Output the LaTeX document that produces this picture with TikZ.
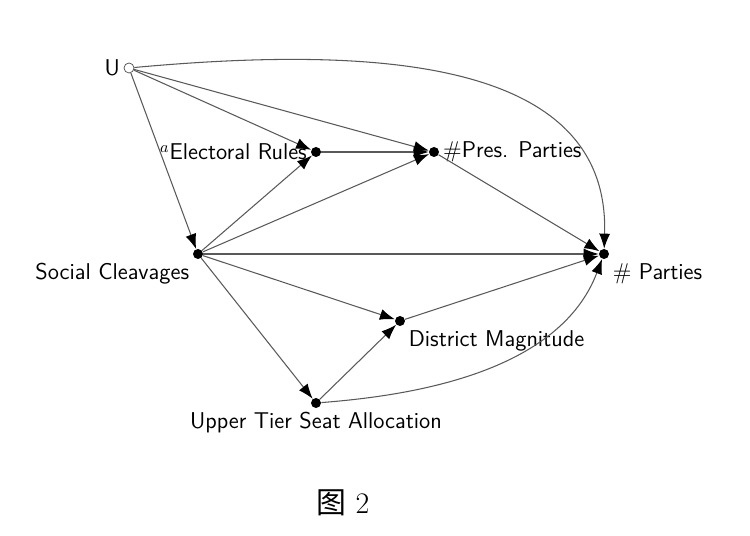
\documentclass[tikz,border=0pt]{standalone}
\usepackage{fontspec}
\usepackage{amsmath}
\newfontfamily\cjk{Noto Sans CJK SC}
\usetikzlibrary{arrows.meta}

\tikzset{
  obs/.style={circle,fill=black,inner sep=0pt,minimum size=0.2cm},
  unobs/.style={circle,draw=black!70,fill=white,inner sep=0pt,minimum size=0.2cm},
  lab/.style={font=\sffamily\fontsize{13}{15}\selectfont,inner sep=2pt},
  edge/.style={draw=black!65,line width=0.6pt,-{Latex[length=0.3cm,width=0.22cm,color=black]}}
}

\begin{document}
\begin{tikzpicture}
\useasboundingbox (0,0) rectangle (15,10.72);
\node[unobs] (u) at (2.58,9.36) {};
\node[obs] (er) at (6.32,7.68) {};
\node[obs] (pp) at (8.68,7.68) {};
\node[obs] (sc) at (3.96,5.64) {};
\node[obs] (np) at (12.08,5.64) {};
\node[obs] (dm) at (8.0,4.3) {};
\node[obs] (ut) at (6.32,2.66) {};
% labels
\node[lab,anchor=east] at (u.west) {U};
\node[lab,anchor=east] at (er.west) {$^a$Electoral Rules};
\node[lab,anchor=west] at (pp.east) {\#Pres. Parties};
\node[lab,anchor=north east] at ([xshift=-0.1cm]sc.south) {Social Cleavages};
\node[lab,anchor=north west] at ([xshift=0.1cm]np.south) {\# Parties};
\node[lab,anchor=north west] at ([xshift=0.1cm]dm.south) {District Magnitude};
\node[lab,anchor=north] at (ut.south) {Upper Tier Seat Allocation};
\node[font=\fontsize{17}{19}\selectfont] (cap) at (6.86,0.66) {{\cjk 图}\ 2};
% edges
\draw[edge] (u) -- (er);
\draw[edge] (u) -- (pp);
\draw[edge] (u) -- (sc);
\draw[edge] (u) .. controls (7.6,9.82) and (12.2,9.52) .. (np);
\draw[edge] (er) -- (pp);
\draw[edge] (sc) -- (er);
\draw[edge] (sc) -- (pp);
\draw[edge] (sc) -- (np);
\draw[edge] (sc) -- (dm);
\draw[edge] (sc) -- (ut);
\draw[edge] (pp) -- (np);
\draw[edge] (dm) -- (np);
\draw[edge] (ut) -- (dm);
\draw[edge] (ut) .. controls (8.4,2.82) and (11.2,3.32) .. (np);
\end{tikzpicture}
\end{document}
